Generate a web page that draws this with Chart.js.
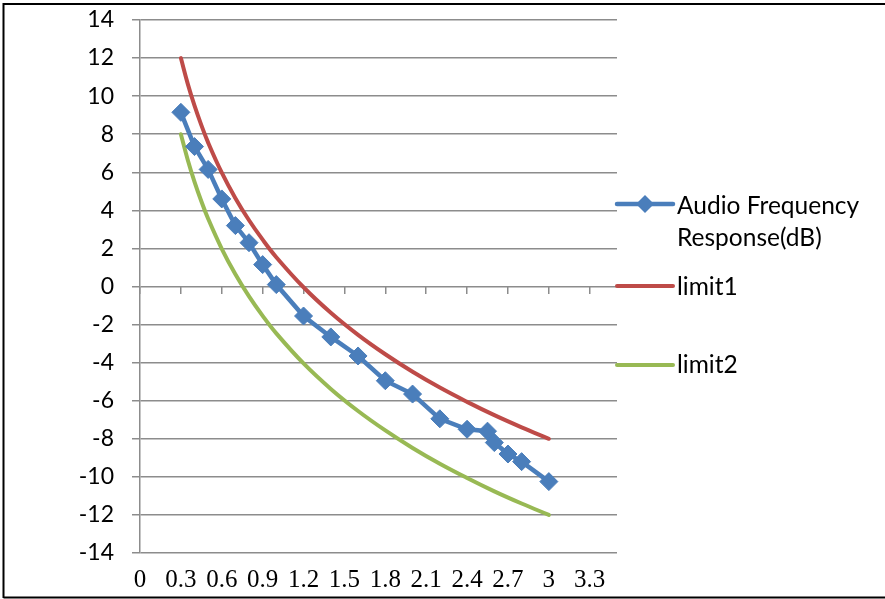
<!DOCTYPE html>
<html>
<head>
<meta charset="utf-8">
<script src="https://cdn.jsdelivr.net/npm/chart.js@4/dist/chart.umd.min.js"></script>
<style>
  html, body { margin: 0; padding: 0; background: #ffffff; }
  #wrap { width: 885px; height: 599px; position: relative; }
</style>
</head>
<body>
<div id="wrap"><canvas id="c" width="885" height="599"></canvas></div>
<script>
// ---- data ----
const seriesNames = ["Audio Frequency\nResponse(dB)", "limit1", "limit2"];

const audioX = [0.3, 0.4, 0.5, 0.6, 0.7, 0.8, 0.9, 1.0, 1.2, 1.4, 1.6, 1.8, 2.0, 2.2, 2.4, 2.55, 2.6, 2.7, 2.8, 3.0];
const audioY = [9.15, 7.35, 6.15, 4.6, 3.2, 2.3, 1.15, 0.1, -1.55, -2.65, -3.65, -4.95, -5.65, -6.95, -7.5, -7.6, -8.2, -8.8, -9.2, -10.25];

const limitX = [0.3, 0.35, 0.4, 0.45, 0.5, 0.6, 0.7, 0.8, 0.9, 1.0, 1.2, 1.4, 1.6, 1.8, 2.0, 2.2, 2.4, 2.6, 2.8, 3.0];
const limit1Y = [12, 10.66, 9.5, 8.48, 7.56, 5.98, 4.64, 3.48, 2.46, 1.54, -0.04, -1.38, -2.54, -3.56, -4.48, -5.31, -6.06, -6.76, -7.4, -8.0];
const limit2Y = [8, 6.66, 5.5, 4.48, 3.56, 1.98, 0.64, -0.52, -1.54, -2.46, -4.04, -5.38, -6.54, -7.56, -8.48, -9.31, -10.06, -10.76, -11.4, -12.0];

const xTickValues = [0, 0.3, 0.6, 0.9, 1.2, 1.5, 1.8, 2.1, 2.4, 2.7, 3, 3.3];
const xTickLabels = ["0", "0.3", "0.6", "0.9", "1.2", "1.5", "1.8", "2.1", "2.4", "2.7", "3", "3.3"];
const yTickValues = [-14, -12, -10, -8, -6, -4, -2, 0, 2, 4, 6, 8, 10, 12, 14];
const xMin = 0, xMax = 3.5, yMin = -14, yMax = 14;

// ---- styles ----
const BLUE = "#4A7EBB", RED = "#BE4B48", GREEN = "#98B954", GRID = "#8C8C8C";

const toPoints = (xs, ys) => xs.map((x, i) => ({ x: x, y: ys[i] }));

const frame = {
  id: "frame",
  beforeDraw(chart) {
    const ctx = chart.ctx;
    ctx.save();
    ctx.fillStyle = "#ffffff";
    ctx.fillRect(0, 0, chart.width, chart.height);
    ctx.restore();
  },
  afterDraw(chart) {
    const ctx = chart.ctx;
    ctx.save();
    ctx.strokeStyle = "#000000";
    ctx.lineWidth = 2;
    ctx.beginPath();
    ctx.moveTo(3.5, 598); ctx.lineTo(3.5, 4); ctx.lineTo(885, 4);
    ctx.moveTo(3.5, 597.5); ctx.lineTo(885, 597.5);
    ctx.stroke();

    // legend
    const ds = chart.data.datasets;
    const rows = [
      { ds: ds[0], lineY: 204, textY: [206, 238] },
      { ds: ds[1], lineY: 286, textY: [287] },
      { ds: ds[2], lineY: 365, textY: [365] }
    ];
    const x0 = 617, x1 = 673, tx = 677;
    ctx.font = "24.5px Lato";
    ctx.textBaseline = "middle";
    ctx.textAlign = "left";
    rows.forEach(r => {
      ctx.strokeStyle = r.ds.borderColor;
      ctx.lineWidth = r.ds.borderWidth;
      ctx.lineCap = "round";
      ctx.beginPath();
      ctx.moveTo(x0, r.lineY); ctx.lineTo(x1, r.lineY);
      ctx.stroke();
      if (r.ds.pointRadius > 0) {
        ctx.fillStyle = r.ds.backgroundColor;
        ctx.beginPath();
        const R = r.ds.pointRadius, cx = (x0 + x1) / 2, cy = r.lineY;
        ctx.moveTo(cx, cy - R); ctx.lineTo(cx + R, cy); ctx.lineTo(cx, cy + R); ctx.lineTo(cx - R, cy);
        ctx.closePath(); ctx.fill();
      }
      ctx.fillStyle = "#000000";
      const lines = r.ds.label.split("\n");
      lines.forEach((t, i) => ctx.fillText(t, tx, r.textY[i]));
    });
    ctx.restore();
  }
};

new Chart(document.getElementById("c"), {
  type: "line",
  data: {
    datasets: [
      {
        label: seriesNames[0],
        data: toPoints(audioX, audioY),
        borderColor: BLUE, backgroundColor: BLUE,
        borderWidth: 4.5, tension: 0,
        pointStyle: "rectRot", pointRadius: 9, pointBorderWidth: 1,
        pointBackgroundColor: BLUE, pointBorderColor: BLUE,
        order: 0
      },
      {
        label: seriesNames[1],
        data: toPoints(limitX, limit1Y),
        borderColor: RED, backgroundColor: RED,
        borderWidth: 4, tension: 0.4, cubicInterpolationMode: "default",
        borderCapStyle: "round", pointRadius: 0, order: 1
      },
      {
        label: seriesNames[2],
        data: toPoints(limitX, limit2Y),
        borderColor: GREEN, backgroundColor: GREEN,
        borderWidth: 4, tension: 0.4, cubicInterpolationMode: "default",
        borderCapStyle: "round", pointRadius: 0, order: 2
      }
    ]
  },
  options: {
    responsive: false,
    animation: false,
    events: [],
    layout: { padding: { left: 0, top: 20, right: 268, bottom: 0 } },
    plugins: { legend: { display: false }, tooltip: { enabled: false } },
    scales: {
      x: {
        type: "linear", position: "bottom", min: xMin, max: xMax,
        afterBuildTicks: s => { s.ticks = xTickValues.map(v => ({ value: v })); },
        afterFit: s => { s.height = 46; },
        grid: { display: false, drawTicks: false },
        border: { display: false },
        ticks: {
          autoSkip: false, maxRotation: 0, padding: 12, color: "#000000",
          font: { family: "'Liberation Serif'", size: 25 },
          callback: (v, i) => xTickLabels[i]
        }
      },
      x2: {
        type: "linear", position: { y: 0 }, min: xMin, max: xMax,
        afterBuildTicks: s => { s.ticks = xTickValues.map(v => ({ value: v })); },
        afterFit: s => { s.height = 0; s.paddingLeft = 0; s.paddingRight = 0; s.paddingTop = 0; s.paddingBottom = 0; },
        grid: { drawOnChartArea: false, drawTicks: true, tickLength: 7, color: GRID, lineWidth: 1.5 },
        border: { display: false },
        ticks: { display: false }
      },
      y: {
        type: "linear", position: "left", min: yMin, max: yMax,
        afterBuildTicks: s => { s.ticks = yTickValues.map(v => ({ value: v })); },
        afterFit: s => { s.width = 140; s.paddingTop = 0; s.paddingBottom = 0; },
        grid: { color: GRID, lineWidth: 1.5, drawTicks: true, tickLength: 8 },
        border: { display: true, color: GRID, width: 1.5 },
        ticks: {
          padding: 18, color: "#000000",
          font: { family: "Lato", size: 23 }
        }
      }
    }
  },
  plugins: [frame]
});
</script>
</body>
</html>
